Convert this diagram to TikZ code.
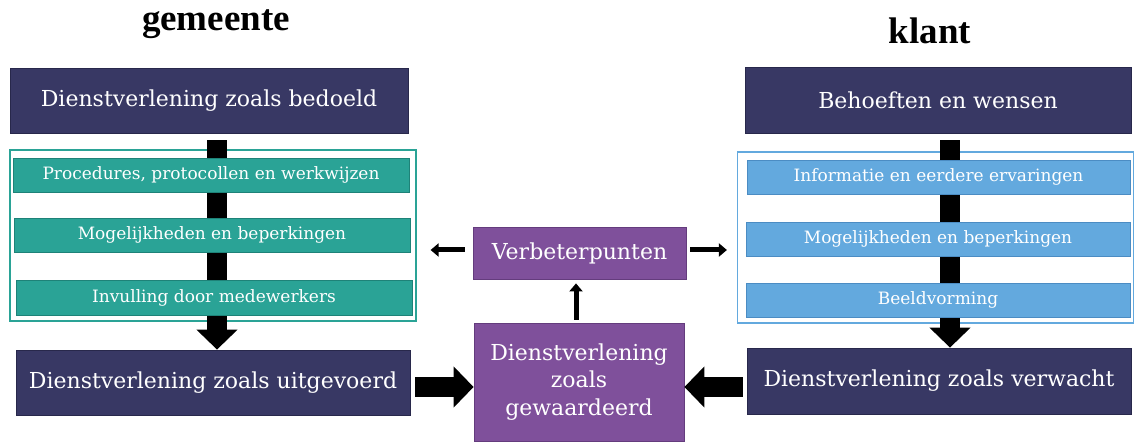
\documentclass[tikz,border=0pt]{standalone}
\usepackage{fontspec}
\setmainfont{DejaVu Serif}
\newfontfamily\titlefont{Liberation Serif}
\usetikzlibrary{arrows.meta,calc}
\definecolor{navy}{RGB}{56,56,100}
\definecolor{navyline}{RGB}{40,40,75}
\definecolor{tealfill}{RGB}{42,163,150}
\definecolor{tealline}{RGB}{30,130,120}
\definecolor{lblue}{RGB}{99,169,222}
\definecolor{lblueline}{RGB}{75,140,195}
\definecolor{purp}{RGB}{127,80,155}
\definecolor{purpline}{RGB}{100,60,125}
\tikzset{
  navybox/.style={draw=navyline, line width=0.8pt, fill=navy, text=white, inner sep=0pt,
    font=\fontsize{22}{26}\selectfont},
  tealbox/.style={draw=tealline, line width=0.8pt, fill=tealfill, text=white, inner sep=0pt,
    minimum height=34pt, font=\fontsize{17}{20}\selectfont},
  bluebox/.style={draw=lblueline, line width=0.8pt, fill=lblue, text=white, inner sep=0pt,
    minimum height=34pt, font=\fontsize{17}{20}\selectfont},
  purpbox/.style={draw=purpline, line width=0.8pt, fill=purp, text=white, inner sep=0pt,
    font=\fontsize{22}{27.5}\selectfont, align=center},
  groupbox/.style={line width=1.2pt, inner sep=0pt},
  bigarrow/.style={line width=20pt, -{Triangle[length=20pt,width=40pt]}},
  smallarrow/.style={line width=5pt, -{Triangle[length=8pt,width=13pt]}},
  titletext/.style={font=\titlefont\bfseries\fontsize{37}{42}\selectfont, inner sep=0pt}
}
\begin{document}
\begin{tikzpicture}[x=1pt,y=-1pt]
\useasboundingbox (0,0) rectangle (1134,443);
\fill[white] (0,0) rectangle (1134,443);

% titles
\node[titletext] (tgem) at (216,24) {gemeente};
\node[titletext] (tklant) at (930,31) {klant};

% left column
\node[groupbox, draw=tealfill, minimum width=406pt, minimum height=171pt] (groupL) at (213,235.5) {};
\node[navybox, minimum width=398pt, minimum height=65pt] (bedoeld) at (209,100.5) {Dienstverlening zoals bedoeld};
\node[navybox, minimum width=394pt, minimum height=65pt] (uitg) at (213,382.5) {Dienstverlening zoals uitgevoerd};
\coordinate (lx) at (217,0);
\draw[bigarrow] ($(bedoeld.south -| lx)+(0,7)$) -- (uitg.north -| lx);
\node[tealbox, minimum width=396pt] (proc) at (211,175) {Procedures, protocollen en werkwijzen};
\node[tealbox, minimum width=396pt] (mogL) at (212,235) {Mogelijkheden en beperkingen};
\node[tealbox, minimum width=396pt, minimum height=35pt] (inv) at (214,297.5) {Invulling door medewerkers};

% right column
\node[groupbox, draw=lblue, minimum width=396pt, minimum height=171pt] (groupR) at (935.5,237.5) {};
\node[navybox, minimum width=386pt, minimum height=66pt] (behoeften) at (938,100) {Behoeften en wensen};
\node[navybox, minimum width=384pt, minimum height=66pt] (verwacht) at (939,381) {Dienstverlening zoals verwacht};
\coordinate (rx) at (950,0);
\draw[bigarrow] ($(behoeften.south -| rx)+(0,7)$) -- (verwacht.north -| rx);
\node[bluebox, minimum width=383pt] (info) at (938.5,177) {Informatie en eerdere ervaringen};
\node[bluebox, minimum width=384pt] (mogR) at (938,239) {Mogelijkheden en beperkingen};
\node[bluebox, minimum width=384pt] (beeld) at (938,300) {Beeldvorming};

% centre
\node[purpbox, minimum width=213pt, minimum height=52pt] (verb) at (579.5,253) {Verbeterpunten};
\node[purpbox, minimum width=210pt, minimum height=118pt] (gew) at (579,382) {Dienstverlening\\zoals\\gewaardeerd};

\coordinate (hy) at (0,387);
\draw[bigarrow] ($(uitg.east |- hy)+(5,0)$) -- (gew.west |- hy);
\draw[bigarrow] ($(verwacht.west |- hy)+(-4,0)$) -- (gew.east |- hy);

\coordinate (sy) at (0,250);
\coordinate (ux) at (576,0);
\draw[smallarrow] ($(gew.north -| ux)+(0,-3)$) -- ($(verb.south -| ux)+(0,4)$);
\draw[smallarrow] ($(verb.west |- sy)+(-8,0)$) -- ($(groupL.east |- sy)+(14,0)$);
\draw[smallarrow] ($(verb.east |- sy)+(4,0)$) -- ($(groupR.west |- sy)+(-10,0)$);
\end{tikzpicture}
\end{document}
